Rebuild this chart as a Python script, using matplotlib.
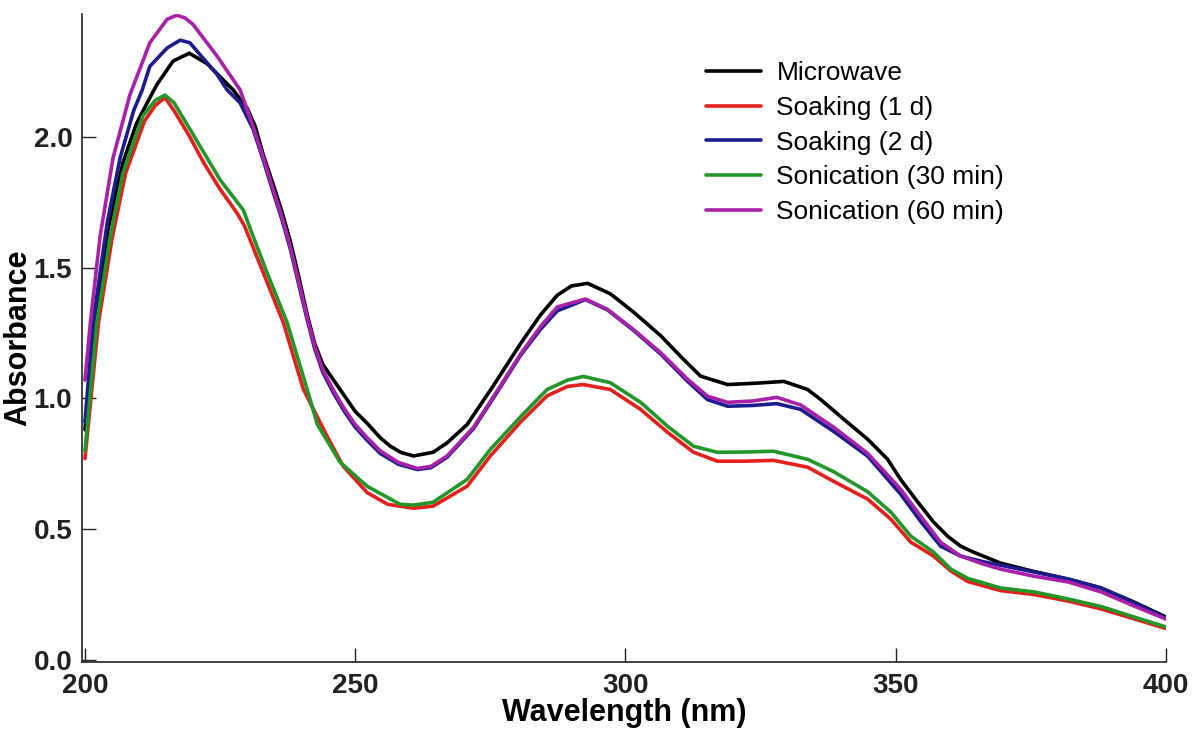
import matplotlib
matplotlib.use("Agg")
import matplotlib.pyplot as plt

# === DATA ===
labels = ["Microwave", "Soaking (1 d)", "Soaking (2 d)",
          "Sonication (30 min)", "Sonication (60 min)"]
colors = ["#000000", "#e3201b", "#1c1c8e", "#23962a", "#a821a8"]

wl_micro = [200, 201.7, 204.3, 207, 209.5, 211.5, 213.3, 216.3, 219.3, 222.6,
            227.4, 230, 231.5, 233, 234.8, 236.5, 238, 239.5, 241, 242.5,
            244, 246, 248, 250, 252.2, 254.6, 256.5, 258.5, 260.8, 264.4,
            267, 270.7, 275.6, 280.6, 284.3, 287.4, 290, 293, 297.2, 301.5,
            306.5, 310.7, 313.9, 318.9, 324, 329.3, 333.7, 336.1, 340.4, 344.8,
            348.5, 350.9, 354.1, 357, 359.6, 362, 364.4, 369.4, 375.6, 381.9,
            388, 394.1, 400]
ab_micro = [0.88, 1.27, 1.65, 1.90, 2.05, 2.13, 2.20, 2.29, 2.32, 2.28,
            2.18, 2.11, 2.04, 1.93, 1.82, 1.71, 1.60, 1.47, 1.33, 1.21,
            1.13, 1.07, 1.01, 0.95, 0.905, 0.85, 0.817, 0.793, 0.78, 0.794,
            0.83, 0.90, 1.05, 1.21, 1.32, 1.395, 1.43, 1.44, 1.40, 1.33,
            1.24, 1.15, 1.085, 1.053, 1.058, 1.065, 1.034, 0.996, 0.92, 0.844,
            0.767, 0.69, 0.603, 0.527, 0.473, 0.435, 0.412, 0.37, 0.338, 0.309,
            0.275, 0.221, 0.164]

wl_soak1 = [200, 202.5, 205, 207.5, 211, 213, 214.8, 216.5, 219.4, 222,
            225, 228.1, 229.5, 233, 236.7, 240.4, 244.8, 247.8, 252.2, 256,
            260.8, 264.4, 270.7, 275, 280.6, 285.5, 289.3, 292.2, 297.2, 302.8,
            307.8, 312.6, 317, 322, 327.4, 333.7, 338.5, 344.8, 349.1, 352.8,
            357, 360.2, 363.3, 369.4, 375.6, 381.9, 388, 394.1, 400]
ab_soak1 = [0.77, 1.29, 1.61, 1.86, 2.06, 2.12, 2.15, 2.10, 2.00, 1.90,
            1.80, 1.71, 1.66, 1.48, 1.29, 1.035, 0.855, 0.74, 0.64, 0.595,
            0.58, 0.588, 0.664, 0.78, 0.91, 1.01, 1.046, 1.053, 1.034, 0.958,
            0.87, 0.794, 0.76, 0.76, 0.763, 0.737, 0.683, 0.615, 0.538, 0.45,
            0.397, 0.34, 0.30, 0.265, 0.25, 0.225, 0.195, 0.157, 0.12]

wl_soak2 = [200, 201.5, 204.1, 206.5, 209, 210.6, 212, 215.2, 217.6, 219.4,
            224.4, 226.3, 228.7, 231.1, 233, 234.8, 236.5, 238, 239.5, 241,
            242.5, 244, 246, 248, 250, 252.2, 254.6, 258, 261.5, 264,
            267, 271.9, 276.3, 280.6, 284.3, 287.4, 292.6, 296.7, 301.5, 306.5,
            311.5, 315.2, 318.9, 323.5, 328, 332.4, 338.5, 344.8, 350.9, 354.6,
            358.3, 362, 366.3, 369.4, 375.6, 381.9, 388, 394.1, 400]
ab_soak2 = [0.91, 1.29, 1.67, 1.92, 2.10, 2.18, 2.27, 2.34, 2.37, 2.36,
            2.24, 2.18, 2.13, 2.03, 1.91, 1.79, 1.68, 1.57, 1.44, 1.31,
            1.19, 1.10, 1.02, 0.95, 0.89, 0.84, 0.79, 0.748, 0.728, 0.735,
            0.775, 0.885, 1.025, 1.165, 1.265, 1.335, 1.378, 1.338, 1.26, 1.17,
            1.065, 0.995, 0.97, 0.973, 0.98, 0.958, 0.874, 0.779, 0.634, 0.53,
            0.435, 0.397, 0.375, 0.362, 0.336, 0.309, 0.275, 0.218, 0.160]

wl_son30 = [200, 202.2, 204.6, 207, 210.7, 213, 214.8, 216.5, 219.4, 225,
            229.3, 231.1, 233.7, 237.4, 241.1, 243, 247.2, 252.2, 258.3, 260.8,
            264.4, 270.7, 275, 280.6, 285.5, 289.3, 292.2, 297.2, 302.8, 307.8,
            312.6, 317, 322, 327.4, 333.7, 338.5, 344.8, 349.1, 352.8, 357,
            360.2, 363.3, 369.4, 375.6, 381.9, 388, 394.1, 400]
ab_son30 = [0.80, 1.29, 1.61, 1.86, 2.08, 2.14, 2.16, 2.13, 2.03, 1.836,
            1.72, 1.62, 1.48, 1.29, 1.035, 0.90, 0.756, 0.664, 0.595, 0.592,
            0.603, 0.69, 0.805, 0.93, 1.034, 1.07, 1.084, 1.06, 0.985, 0.893,
            0.817, 0.794, 0.795, 0.798, 0.767, 0.72, 0.643, 0.565, 0.473, 0.412,
            0.347, 0.312, 0.275, 0.26, 0.233, 0.204, 0.164, 0.126]

wl_son60 = [200, 201, 202.8, 205.2, 208.3, 212, 215.2, 217, 218.5, 220,
            224.4, 228.7, 231.1, 233, 234.8, 236.5, 238, 239.5, 241, 242.5,
            244, 246, 248, 250, 252.2, 254.6, 258, 261.5, 264, 267,
            271.9, 276.3, 280.6, 284.3, 287.4, 292.6, 296.7, 301.5, 306.5, 311.5,
            315.2, 318.9, 323.5, 328, 332.4, 338.5, 344.8, 350.9, 354.6, 358.3,
            362, 366.3, 369.4, 375.6, 381.9, 388, 394.1, 400]
ab_son60 = [1.07, 1.29, 1.62, 1.92, 2.16, 2.36, 2.45, 2.465, 2.455, 2.43,
            2.31, 2.18, 2.04, 1.92, 1.80, 1.69, 1.58, 1.45, 1.32, 1.20,
            1.11, 1.03, 0.96, 0.90, 0.85, 0.80, 0.755, 0.732, 0.74, 0.78,
            0.89, 1.03, 1.17, 1.275, 1.35, 1.38, 1.34, 1.263, 1.175, 1.073,
            1.008, 0.985, 0.99, 1.004, 0.975, 0.89, 0.79, 0.653, 0.55, 0.45,
            0.397, 0.366, 0.347, 0.32, 0.298, 0.26, 0.206, 0.156]

series = [(wl_micro, ab_micro), (wl_soak1, ab_soak1), (wl_soak2, ab_soak2),
          (wl_son30, ab_son30), (wl_son60, ab_son60)]

xticks = [200, 250, 300, 350, 400]
yticks = [0.0, 0.5, 1.0, 1.5, 2.0]

# === FIGURE ===
plt.rcParams['font.family'] = ['Liberation Sans', 'DejaVu Sans']
fig = plt.figure(figsize=(11.93, 7.31), dpi=100)
ax = fig.add_axes([82 / 1193, 1 - 662 / 731, 1084 / 1193, 648 / 731])

for (x, y), lab, col in zip(series, labels, colors):
    ax.plot(x, y, color=col, lw=2.6, label=lab,
            solid_joinstyle='round', solid_capstyle='round')

ax.set_xlim(199.45, 400)
ax.set_ylim(-0.008, 2.47)
ax.set_xticks(xticks)
ax.set_yticks(yticks)
ax.set_xticklabels([str(t) for t in xticks], fontsize=20, fontweight='bold')
ax.set_yticklabels([f"{t:.1f}" for t in yticks], fontsize=20, fontweight='bold')
ax.tick_params(direction='in', length=10, width=1.0, colors='#222222')
ax.tick_params(axis='x', pad=8)
ax.tick_params(axis='y', pad=7)

for s in ['top', 'right']:
    ax.spines[s].set_visible(False)
for s in ['left', 'bottom']:
    ax.spines[s].set_linewidth(1.2)
    ax.spines[s].set_color('#222222')

ax.set_xlabel("Wavelength (nm)", fontsize=22, fontweight='bold')
ax.set_ylabel("Absorbance", fontsize=22, fontweight='bold')
ax.xaxis.set_label_coords(0.5, -0.056)
ax.yaxis.set_label_coords(-0.045, 0.5)

ax.legend(loc='upper left', bbox_to_anchor=(706 / 1193, 1 - 61 / 731),
          bbox_transform=fig.transFigure, frameon=False, fontsize=19,
          handlelength=2.1, handletextpad=0.57, labelspacing=0.41,
          borderpad=0, borderaxespad=0)

fig.savefig("out.png", dpi=100)
